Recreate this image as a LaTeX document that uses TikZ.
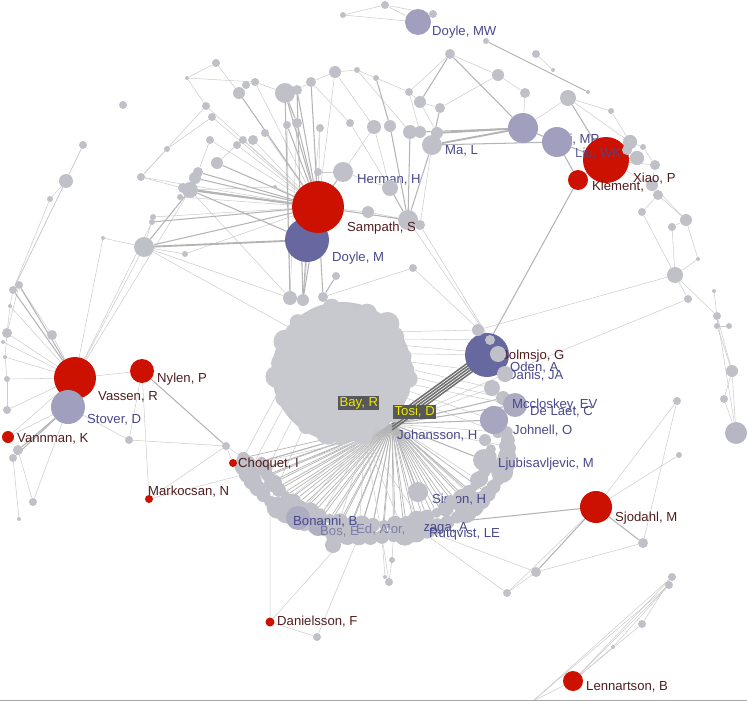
\documentclass[tikz,border=0pt]{standalone}
\usepackage{fontspec}
\setmainfont{Liberation Sans}
\usetikzlibrary{calc}
\usetikzlibrary{positioning}
\definecolor{nodegrey}{RGB}{192,192,200}
\definecolor{blobgrey}{RGB}{198,198,204}
\definecolor{nodered}{RGB}{204,17,0}
\definecolor{nodeblue}{RGB}{104,104,160}
\definecolor{nodelilac}{RGB}{160,160,190}
\definecolor{lblred}{RGB}{80,28,28}
\definecolor{lblblue}{RGB}{72,72,140}
\definecolor{edgegrey}{RGB}{204,204,204}
\definecolor{edgemid}{RGB}{180,180,180}
\definecolor{edgedark}{RGB}{112,112,112}
\definecolor{hlgrey}{RGB}{88,88,88}
\definecolor{hlyellow}{RGB}{235,235,0}
\newcommand\lblfont{\fontsize{11.2pt}{13pt}\selectfont}
\pgfdeclarelayer{edges}
\pgfsetlayers{edges,main}
\tikzset{
  gn/.style={circle, fill=nodegrey, inner sep=0pt, minimum size=#1*0.06cm},
  rn/.style={gn=#1, fill=nodered},
  bn/.style={gn=#1, fill=nodeblue},
  ln/.style={gn=#1, fill=nodelilac}
}
\tikzstyle{redlbl} = [anchor=west, inner sep=0pt, text=lblred]
\tikzstyle{bluelbl} = [anchor=west, inner sep=0pt, text=lblblue]
\tikzstyle{hilite} = [anchor=west, fill=hlgrey, text=hlyellow, inner sep=1.2pt]
\tikzstyle{link} = [draw=edgegrey, line width=0.45pt]
\tikzstyle{strong} = [draw=edgemid, line width=0.9pt]
\tikzstyle{heavy} = [draw=edgemid, line width=1.6pt]
\tikzstyle{fan} = [draw=edgemid, line width=0.6pt]
\tikzstyle{bundle} = [draw=edgedark, line width=1.3pt]
\begin{document}
\begin{tikzpicture}[x=0.03cm, y=-0.03cm, font=\lblfont]
    \useasboundingbox (0,0) rectangle (747,701);
    % the dense core first
    \node[gn=70, fill=blobgrey] (blob) at (342,372) {};
    \foreach \k in {1,...,110}{
      \pgfmathsetmacro\ang{mod(\k*137.508,360)}
      \pgfmathsetmacro\dd{67*sqrt(\k/110)}
      \pgfmathsetmacro\bx{342+\dd*cos(\ang)}
      \pgfmathsetmacro\by{372+\dd*sin(\ang)}
      \pgfmathtruncatemacro\sh{88+mod(\k*13,13)}
      \pgfmathsetmacro\br{7+mod(\k*7,6)}
      \node[gn=\br, fill=nodegrey!\sh!white] (blob\k) at (\bx,\by) {};
    }
    \foreach \n/\x/\y/\rad in {bt1/290/298/7, bt2/303/300/6, bt3/323/297/5}
      \node[gn=\rad] (\n) at (\x,\y) {};
    \coordinate (hub) at (392,424);
    \coordinate (hub2) at (365,438);
    \coordinate (bot1) at (533,701);
    \node[bn=22] (bolmsjo) at (487,355) {};
    % labels that other nodes partly hide
    \node[bluelbl] (hermanlbl) at (357,180) {Herman, H};
    \node[bluelbl] (liMPlbl) at (562,140) {Li, MP};
    \node[redlbl] (bolmsjolbl) at (500,356) {Bolmsjo, G};
    \node[bluelbl] (danislbl) at (507,376) {Danis, JA};
    \node[bluelbl] (johanssonlbl) at (397,436) {Johansson, H};
    % the bowl under the core
    \foreach \k in {0,...,36}{
      \pgfmathsetmacro\tht{172-5*\k}
      \pgfmathsetmacro\rx{375+133*cos(\tht)}
      \pgfmathsetmacro\ry{445+92*sin(\tht)}
      \pgfmathsetmacro\rr{6+mod(\k*5,6)}
      \node[gn=\rr] (ringA\k) at (\rx,\ry) {};
    }
    \foreach \k in {0,...,30}{
      \pgfmathsetmacro\tht{168-5.5*\k}
      \pgfmathsetmacro\rx{375+116*cos(\tht)}
      \pgfmathsetmacro\ry{445+80*sin(\tht)}
      \pgfmathsetmacro\rr{5+mod(\k*3,5)}
      \node[gn=\rr] (ringB\k) at (\rx,\ry) {};
    }
    % grey nodes
    \foreach \n/\x/\y/\rad in {
      t1/385/5/4, t2/343/15/3, t3/433/14/4, t4/486/41/3, t5/450/54/5,
      t6/536/54/4, t7/553/70/2, t8/588/92/2, t9/568/98/8, t10/216/63/4,
      t11/187/78/2, t12/123/105/4, t13/239/93/6, t14/246/85/4, t15/255/82/4,
      t16/285/93/10, t17/297/90/5, t18/311/82/5, t19/335/72/6, t20/357/70/3,
      t21/376/78/3, t22/409/92/4, t23/420/102/6, t24/440/108/5, t25/498/75/6,
      t26/525/93/5, t27/206/106/4, t28/212/117/4, t29/210/140/4, t30/167/149/3,
      u3/374/127/7, u4/390/126/6, u5/410/132/7, u6/420/132/6, u7/437/133/6,
      u8/297/123/5, u9/287/125/4, u10/320/128/4, u11/350/123/4, u12/318/172/4,
      u13/390/188/8, u14/368/212/6, u15/408/220/10, u16/420/225/5, u17/413/268/4,
      u18/336/276/4, u19/217/163/6, u20/198/172/5, u21/195/178/6, u22/190/190/8,
      u23/183/188/5, u24/180/197/3, u25/153/217/3, u26/152/222/3, u27/144/247/10,
      u28/185/254/3, u29/237/145/4, u30/243/140/4, u31/253/140/5, u32/265/133/4,
      u33/275/187/2, u34/141/177/4, u35/103/238/2,
      l1/83/145/4, l2/66/181/7, l3/50/199/3, l4/13/290/4, l5/19/285/4,
      l6/10/306/2, l7/7/333/5, l8/52/335/5, l9/7/379/3, l10/7/410/4,
      l11/5/357/2, l12/18/450/5, l13/13/458/4, l14/129/440/4, l15/226/446/4,
      l16/33/502/4, l17/19/519/2, l18/3/342/2,
      r2/611/111/3, r3/630/142/7, r4/637/158/7, r5/643/147/3, r6/655/165/5,
      r7/652/185/6, r8/658/195/5, r9/642/212/4, r10/686/220/6, r11/627/150/5,
      r13/672/227/4, r14/698/259/2, r15/675/275/8, r16/688/299/4, r17/714/291/2,
      r18/717/316/4, r19/717/326/3, r20/729/326/3, r21/732/371/6, r22/724/399/4,
      r24/677/401/4, r25/679/455/3,
      s1/643/543/5, s2/536/572/5, s3/507/593/4, s4/672/577/4, s5/669/585/4,
      s6/642/624/4, s7/613/647/2,
      d1/317/637/4, d2/389/582/4, d3/385/577/2, d4/392/560/3,
      c1/490/340/5, c2/498/354/8, c3/505/374/8, c4/492/388/8, c5/503/398/7,
      c6/498/432/6, c7/505/446/6, c8/485/440/6, c9/478/480/8, c10/470/495/7,
      c11/478/330/6, w1/418/492/10, w3/484/460/11, w4/333/545/8}
      \node[gn=\rad] (\n) at (\x,\y) {};
    \node[gn=11, fill=nodegrey!70!nodelilac] (r23) at (736,433) {};
    \node[ln=12, fill=nodelilac!70!nodegrey] (q1) at (515,405) {};
    \node[ln=14, fill=nodelilac!80!nodegrey] (q2) at (494,420) {};
    \node[ln=12, fill=nodelilac!60!nodegrey] (q3) at (298,518) {};
    \node[ln=9, fill=nodelilac!50!nodegrey] (q4) at (318,527) {};
    \node[gn=10] (herman) at (343,172) {};
    \node[gn=10] (maL) at (432,145) {};
    % coloured nodes
    \node[ln=13] (doyleMW) at (418,22) {};
    \node[bn=22] (doyleM) at (307,240) {};
    \node[rn=26] (sampath) at (318,207) {};
    \node[ln=15] (purpA) at (523,128) {};
    \node[ln=15] (purpB) at (557,142) {};
    \node[rn=23] (xiao) at (606,160) {};
    \node[rn=10] (klement) at (578,180) {};
    \foreach \n/\x/\y/\rad in {r3/630/142/7, r4/637/158/7, r11/627/150/5}
      \node[gn=\rad] (\n top) at (\x,\y) {};
    \node[rn=12] (nylen) at (142,371) {};
    \node[rn=21] (vassen) at (75,378) {};
    \node[ln=17] (stover) at (68,407) {};
    \node[rn=6] (vannman) at (8,437) {};
    \node[rn=4] (markocsan) at (149,499) {};
    \node[rn=4] (choquet) at (233,463) {};
    \node[rn=4.5] (danielsson) at (270,622) {};
    \node[rn=16] (sjodahl) at (596,507) {};
    \node[rn=10] (lennartson) at (573,681) {};
    % labels
    \node[bluelbl] (doyleMWlbl) at (432,32) {Doyle, MW};
    \node[bluelbl] (maLlbl) at (445,151) {Ma, L};
    \node[redlbl] (sampathlbl) at (347,228) {Sampath, S};
    \node[bluelbl] (doyleMlbl) at (332,258) {Doyle, M};
    \node[bluelbl, opacity=0.85] (liuWKlbl) at (575,154) {Liu, WK};
    \node[redlbl] (xiaolbl) at (633,179) {Xiao, P};
    \node[redlbl] (klementlbl) at (592,187) {Klement,};
    \node[bluelbl] (odenlbl) at (510,368) {Oden, A};
    \node[bluelbl] (mccloskeylbl) at (512,405) {Mccloskey, EV};
    \node[bluelbl] (delaetlbl) at (530,412) {De Laet, C};
    \node[bluelbl] (johnelllbl) at (513,431) {Johnell, O};
    \node[bluelbl] (ljubisavljeviclbl) at (498,464) {Ljubisavljevic, M};
    \node[redlbl] (sjodahllbl) at (615,518) {Sjodahl, M};
    \node[redlbl] (lennartsonlbl) at (586,687) {Lennartson, B};
    \node[redlbl] (danielssonlbl) at (277,622) {Danielsson, F};
    \node[redlbl] (nylenlbl) at (157,379) {Nylen, P};
    \node[redlbl] (vassenlbl) at (98,397) {Vassen, R};
    \node[bluelbl] (stoverlbl) at (87,420) {Stover, D};
    \node[redlbl] (vannmanlbl) at (17,439) {Vannman, K};
    \node[redlbl] (markocsanlbl) at (148,492) {Markocsan, N};
    \node[redlbl] (choquetlbl) at (238,464) {Choquet, I};
    \node[bluelbl] (simonlbl) at (432,500) {Simon, H};
    \node[gn=6] (c13) at (451,501) {};
    \node[bluelbl, opacity=0.55] (boslbl) at (320,532) {Bos, E};
    \node[bluelbl, opacity=0.55] (edlbl) at (356,530) {Ed, A};
    \node[bluelbl, opacity=0.55] (jorlbl) at (384,530) {Jor, A};
    \node[bluelbl] (bonannilbl) at (293,522) {Bonanni, B};
    \node[bluelbl] (arzagalbl) at (410,528) {Arzaga, A};
    \node[gn=11] (w2) at (414,526) {};
    \node[bluelbl] (rutqvistlbl) at (429,534) {Rutqvist, LE};
    \node[hilite] (baylbl) at (338,403) {Bay, R};
    \node[hilite] (tosilbl) at (393,412) {Tosi, D};
    % connectors go underneath everything
    \begin{pgfonlayer}{edges}
    \foreach \p/\q in {t2/t1, t2/doyleMW, t1/t3, t3/doyleMW, t1/doyleMW, t6/t7,
        t5/t22, t5/t25, t25/t26, t26/purpA, t25/t24, t9/purpA, t9/r3, t10/t13,
        t11/t27, t11/t15, t10/t11, t13/t14, t14/t15, t15/t16, t17/t18, t18/t19,
        t19/t20, t20/t21, t21/t22, t22/t23, t23/t24, t19/sampath, t15/sampath,
        t18/u11, t19/u3, t20/u5, t22/u6, t23/u7, u3/u13, u11/u13, herman/u3,
        herman/u13, u14/u15, u14/sampath, u15/u16, u16/maL, u10/sampath,
        u12/sampath, u12/herman, u24/sampath, u25/sampath, u34/u22, u34/sampath,
        u34/t30, t30/t28, t29/sampath, t28/sampath, t27/sampath, u29/sampath,
        u30/sampath, u31/sampath, u32/sampath, u25/u27, u19/u29, u20/t29,
        u28/sampath, u28/u27, u35/u27, u35/vassen, t27/u34, u33/sampath, u33/u22,
        l1/l2, l2/l3, l2/l4, l3/l4, l1/l4, l4/l6, l5/l7, l6/l7, l7/l11, l11/l9,
        l9/l10, l6/vassen, l7/vassen, l8/vassen, l9/vassen, l10/vassen,
        l11/vassen, l18/vassen, l16/stover, l16/l12, l17/l13, vannman/stover,
        vannman/vassen, nylen/vassen, nylen/l14, nylen/markocsan, l15/choquet,
        l14/stover, markocsan/l15, u27/vassen, u22/vassen, u26/vassen, l8/l5,
        l14/l15, xiao/r6, xiao/r7, r2/t9, r2/r3, r3/r5, r5/r6, r6/r7, r7/r8,
        r8/r9, r7/r10, r8/r10, r10/r13, r9/r15, r13/r15, r15/r14, r15/r16,
        r15/r18, r17/r18, r18/r19, r19/r21, r18/r21, r20/r19, r21/r22, r21/r23,
        r18/r23, r22/r23, r14/r10, c3/r16, c11/r15, r24/sjodahl, r24/s1,
        r25/sjodahl, sjodahl/s3, s2/s3, s1/s2, s2/w2, s3/w2, lennartson/s4,
        lennartson/s5, lennartson/s6, lennartson/s7, s4/s6, s5/s7,
        lennartson/bot1, s4/bot1, s5/bot1, danielsson/d1, d2/d3, d4/d2,
        u15/c1, u16/c1, u17/c1, danielsson/ringA6, danielsson/ringA14,
        d1/ringA15, d2/ringA17, d3/ringA17, d4/ringA18, markocsan/ringA2,
        choquet/ringA0, l15/ringA0, bt1/u8, bt1/u9, bt2/u10, bt3/u17, bt1/u27,
        bt1/u22, hub/c4, hub/c3, hub/c6, hub/c7, hub/c9, hub/c10}
      \draw[link] (\p) -- (\q);
    \foreach \p/\q in {t4/t8, t5/t23, t5/purpA, t16/t17, t13/sampath,
        t16/sampath, t17/sampath, t18/sampath, t16/u8, t21/u4, t24/maL,
        u6/purpA, maL/u15, u5/u15, u4/u15, herman/sampath, u13/u15,
        u15/sampath, u9/sampath, u8/sampath, u19/sampath, u20/sampath,
        u21/sampath, u23/sampath, u26/sampath, u27/sampath, u22/doyleM,
        u22/u27, l4/vassen, l5/vassen, l4/l5, l12/stover, l13/stover, l12/l13,
        nylen/l15, xiao/r3, xiao/r4, xiao/r11, xiao/purpB, xiao/klement,
        xiao/t9, klement/purpB, purpA/purpB, purpB/maL, klement/c1,
        sjodahl/s1, sjodahl/s2, sjodahl/w2, bt1/t16, bt2/t17, bt2/doyleM,
        bt3/u18, bt3/sampath, bt2/sampath, hub/q1, hub/q2, hub/c5, hub/w3,
        hub/w1}
      \draw[strong] (\p) -- (\q);
    \foreach \p/\q in {u7/purpA, maL/purpA, u22/sampath, u27/doyleM}
      \draw[heavy] (\p) -- (\q);
    \foreach \a/\n in {35/c11, 28/c1, 22/c2, 15/bolmsjo, 8/c3, 2/c4, -4/c5,
        -10/q1, -16/q2, -22/c6, 140/u27, 200/ringA0, 212/ringA2, 224/ringA4,
        236/ringA6}
      \draw[link] (blob.\a) -- (\n);
    \foreach \k in {0,...,28}
      \draw[fan] (hub) -- (ringA\k);
    \foreach \k in {0,...,24}
      \draw[fan] (hub) -- (ringB\k);
    \foreach \k in {1,3,...,21}
      \draw[link] (hub2) -- (ringA\k);
    \foreach \o in {-6,-3,0,3,6}
      \draw[bundle] ($(hub)+(0,\o)$) -- ($(bolmsjo)+(0,\o)$);
    \end{pgfonlayer}
    \coordinate (frameL) at (0,700);
    \coordinate (frameR) at (747,700);
    \draw[gray!70, line width=0.8pt] (frameL) -- (frameR);
\end{tikzpicture}
\end{document}
